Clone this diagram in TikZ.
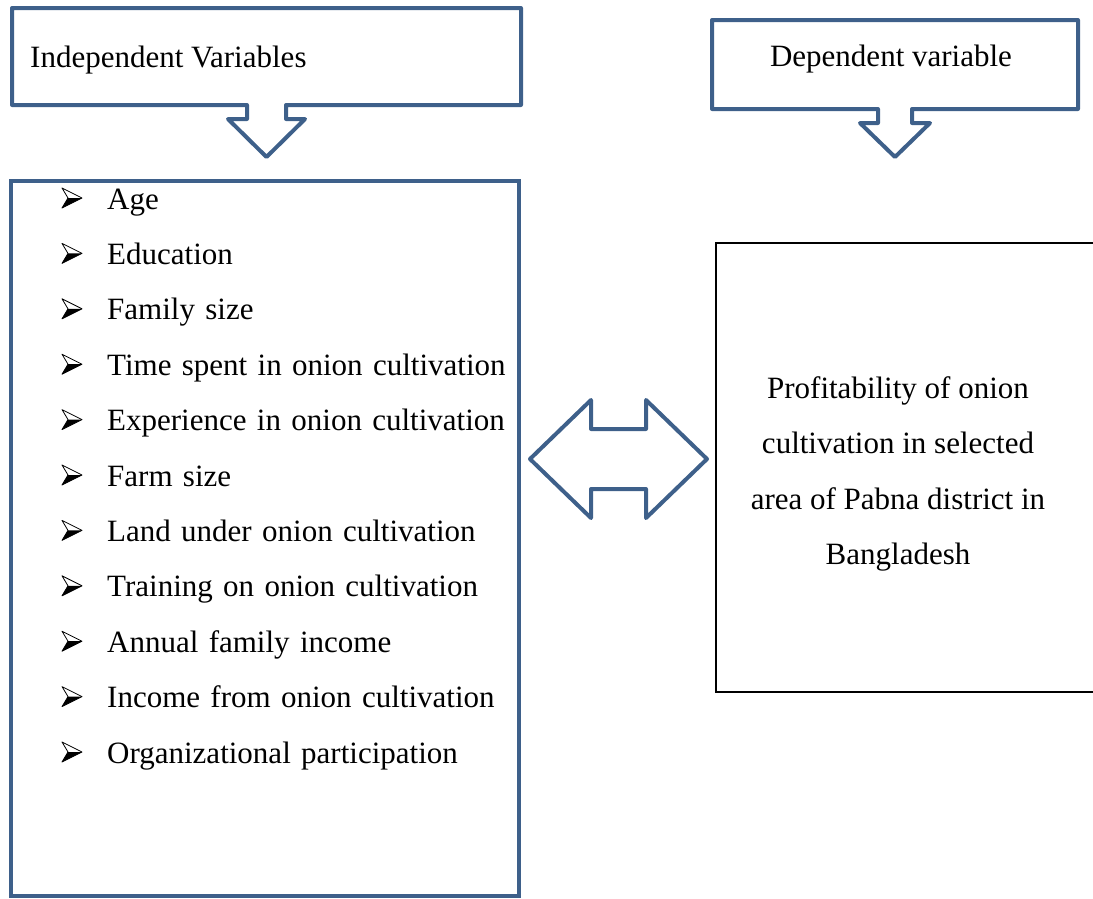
\documentclass[tikz,border=0pt]{standalone}
\usepackage{fontspec}
\setmainfont{Liberation Serif}
\usetikzlibrary{positioning}
\definecolor{frameblue}{RGB}{62,96,138}
\tikzset{
    callout/.style={draw=frameblue, line width=4pt, line join=round},
    headtext/.style={inner sep=0pt, font=\fontsize{31}{37}\selectfont},
    item/.style={text width=410pt, align=left, inner sep=0pt, text height=22pt, text depth=8pt,
        font=\fontsize{31}{37}\selectfont},
}

\begin{document}
\begin{tikzpicture}[x=1pt, y=1pt, node distance=25pt]
    \useasboundingbox (0,0) rectangle (1093,-898);
    % header callouts
    \draw[callout] (12,-105) |- (521,-8) |- (286,-105) -- ++(0,-14) -- ++(19,0)
        -- ++(-38.5,-38) -- ++(-38.5,38) -- ++(19,0) -- ++(0,14) -- cycle;
    \draw[callout] (712,-109) |- (1078,-20) |- (912,-109) -- ++(0,-14) -- ++(18,0)
        -- ++(-35,-34) -- ++(-35,34) -- ++(18,0) -- ++(0,14) -- cycle;
    \node[headtext, anchor=base west] (indep) at (30,-67) {Independent Variables};
    \node[headtext, anchor=base] (dep) at (891,-66) {Dependent variable};

    % list of independent variables
    \node[draw=frameblue, line width=4pt, minimum width=508pt, minimum height=715pt, inner sep=0pt]
        (vars) at (265,-538.5) {};
    \node[item, anchor=base west] (age) at (107,-209) {Age};
    \node[item, below=of age] (edu) {Education};
    \node[item, below=of edu] (fam) {Family size};
    \node[item, below=of fam] (time) {Time spent in onion cultivation};
    \node[item, below=of time] (exper) {Experience in onion cultivation};
    \node[item, below=of exper] (farm) {Farm size};
    \node[item, below=of farm] (land) {Land under onion cultivation};
    \node[item, below=of land] (train) {Training on onion cultivation};
    \node[item, below=of train] (annual) {Annual family income};
    \node[item, below=of annual] (onioninc) {Income from onion cultivation};
    \node[item, below=of onioninc] (org) {Organizational participation};
    % arrowhead bullets
    \foreach \n in {age,edu,fam,time,exper,farm,land,train,annual,onioninc,org} {
        \fill ([shift={(-39,4)}]\n.west) -- ([shift={(-25,4)}]\n.west) -- ([shift={(-45,-6)}]\n.west) -- cycle;
        \draw[line width=0.8pt, line join=round] ([shift={(-45,14)}]\n.west) -- ([shift={(-25,4)}]\n.west)
            -- ([shift={(-45,-6)}]\n.west) -- ([shift={(-39,4)}]\n.west) -- cycle;
    }

    % two-way arrow
    \draw[callout] (530,-459) -- (591,-400) -- (591,-429) -- (646,-429) -- (646,-400)
        -- (707,-459) -- (646,-518) -- (646,-489) -- (591,-489) -- (591,-518) -- cycle;

    % dependent variable box
    \node[draw, line width=1.6pt, minimum width=384pt, minimum height=449pt, inner sep=0pt]
        (result) at (908,-467.5) {};
    \node[align=center, inner sep=0pt, font=\fontsize{31}{55.5}\selectfont] (resulttext) at (898,-474)
        {Profitability of onion\\cultivation in selected\\area of Pabna district in\\Bangladesh};
\end{tikzpicture}
\end{document}
